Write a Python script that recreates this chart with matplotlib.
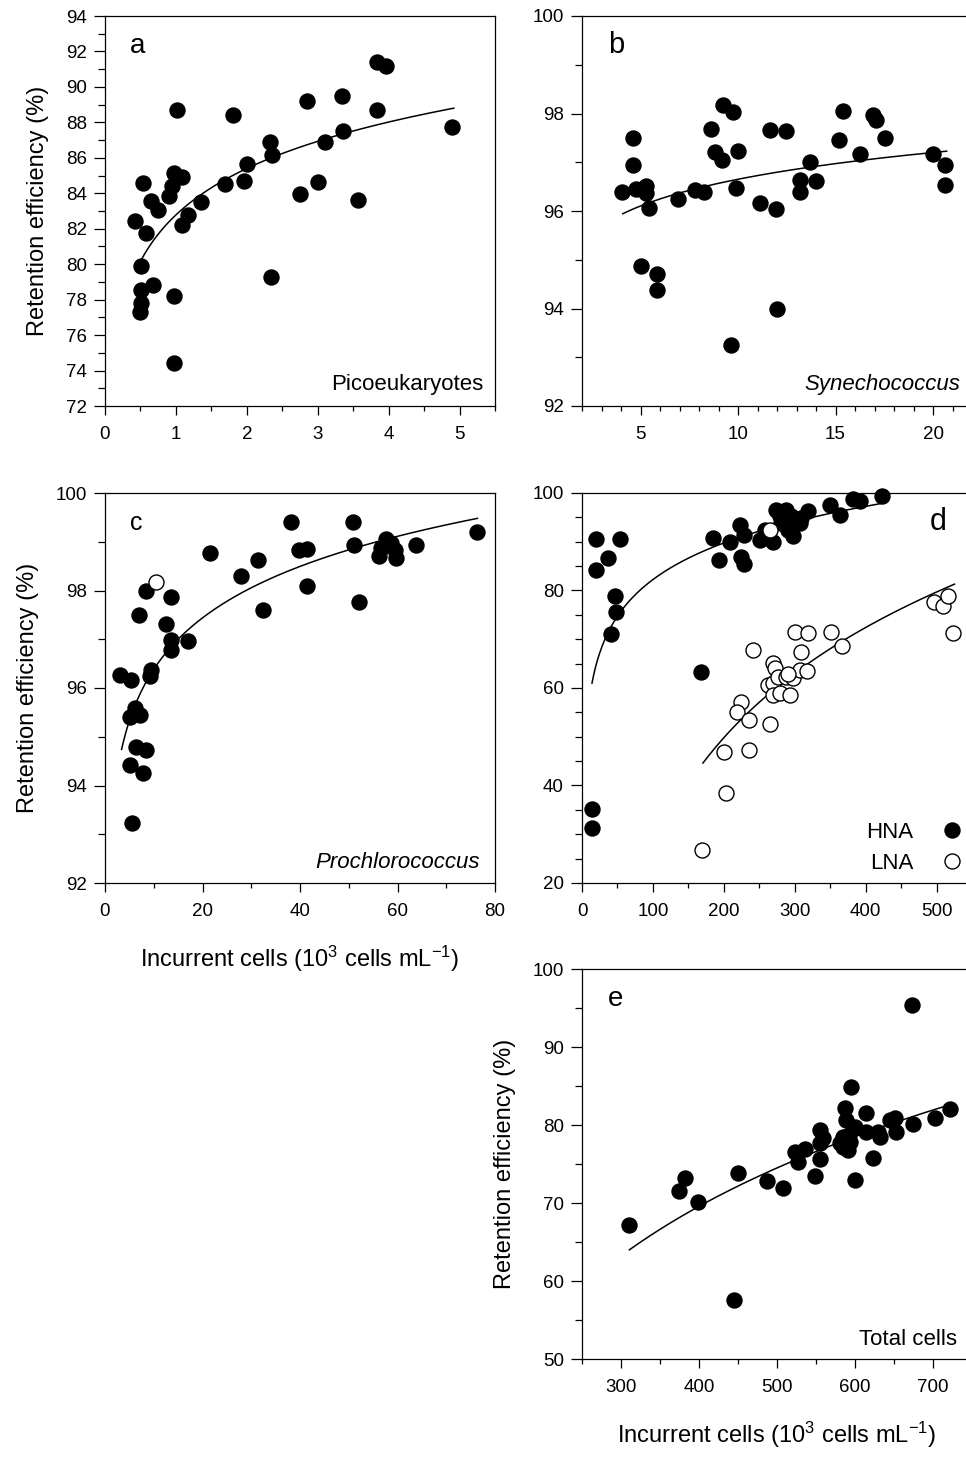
"""
Retention efficiency vs incurrent cell concentration for each picoplankton
group (a-e), with the log fits drawn over the scatter.
"""

import matplotlib
matplotlib.use("Agg")
import matplotlib.pyplot as plt
import numpy as np
from matplotlib.lines import Line2D
from matplotlib.ticker import MultipleLocator

plt.rcParams["font.family"] = ["Liberation Sans", "DejaVu Sans"]
plt.rcParams["mathtext.fontset"] = "custom"
plt.rcParams["mathtext.rm"] = "Liberation Sans"
plt.rcParams["mathtext.it"] = "Liberation Sans:italic"

# --- a: picoeukaryotes ---
PICO_X = [0.43, 0.54, 0.51, 0.51, 0.51, 0.50, 0.58, 0.67, 0.65, 0.75, 0.90, 0.95,
          0.98, 1.09, 1.01, 0.98, 0.98, 1.08, 1.17, 1.35, 1.69, 1.81, 1.96, 2.00,
          2.33, 2.35, 2.34, 2.75, 2.85, 3.00, 3.10, 3.34, 3.36, 3.57, 3.83, 3.84,
          3.96, 4.90]
PICO_Y = [82.42, 84.58, 79.88, 78.57, 77.82, 77.29, 81.76, 78.85, 83.54, 83.04, 83.83, 84.39,
          85.14, 84.91, 88.71, 78.23, 74.40, 82.23, 82.79, 83.51, 84.52, 88.39, 84.71, 85.65,
          86.92, 86.17, 79.26, 83.98, 89.21, 84.63, 86.92, 89.46, 87.54, 83.64, 88.71, 91.43,
          91.20, 87.73]

# --- b: Synechococcus ---
SYN_X = [4.06, 4.61, 4.61, 4.78, 5.29, 5.26, 5.46, 5.03, 5.86, 5.86, 6.92, 7.77, 8.28,
         8.63, 8.80, 9.17, 9.23, 9.74, 9.99, 9.88, 9.65, 11.14, 11.65, 11.96, 12.01,
         12.48, 13.16, 13.16, 13.67, 14.01, 15.18, 15.38, 16.24, 16.92, 17.09, 17.52,
         20.00, 20.63, 20.63]
SYN_Y = [96.40, 97.49, 96.95, 96.45, 96.51, 96.37, 96.06, 94.87, 94.70, 94.37, 96.25, 96.44, 96.38,
         97.68, 97.22, 97.05, 98.18, 98.04, 97.24, 96.48, 93.25, 96.16, 97.67, 96.04, 93.98,
         97.65, 96.64, 96.39, 97.00, 96.61, 97.46, 98.05, 97.17, 97.96, 97.87, 97.49,
         97.17, 96.95, 96.54]

# --- c: Prochlorococcus ---
PRO_X = [3.1, 5.4, 5.1, 6.1, 7.1, 5.1, 6.4, 8.5, 7.7, 5.6, 7.0, 8.5, 9.5, 9.3,
         12.6, 13.6, 13.5, 13.5, 17.0, 21.6, 27.9, 31.4, 32.5, 38.2, 39.8, 41.4,
         41.4, 50.8, 51.0, 52.1, 56.6, 56.3, 57.6, 58.7, 59.4, 59.6, 63.7, 76.4]
PRO_Y = [96.27, 96.16, 95.41, 95.58, 95.45, 94.42, 94.79, 94.73, 94.25, 93.23, 97.50, 98.00, 96.37, 96.25,
         97.32, 97.86, 96.99, 96.78, 96.97, 98.77, 98.30, 98.63, 97.60, 99.40, 98.84, 98.85,
         98.10, 99.40, 98.94, 97.76, 98.87, 98.70, 99.05, 98.97, 98.84, 98.66, 98.94, 99.20]
PRO_OPEN_X = [10.5]
PRO_OPEN_Y = [98.18]

# --- d: high / low nucleic acid bacteria ---
HNA_X = [19.3, 19.3, 36.7, 54.0, 46.1, 47.5, 41.4, 14.1, 14.1, 167.3, 184.7, 192.7,
         209.1, 222.3, 228.4, 224.6, 228.4, 250.5, 257.5, 269.3, 274.0, 288.1, 281.0,
         290.4, 295.1, 299.8, 297.5, 306.9, 318.6, 350.1, 364.2, 382.0, 391.4, 423.4,
         278.7, 309.2]
HNA_Y = [90.55, 84.25, 86.64, 90.55, 78.97, 75.68, 71.03, 35.14, 31.37, 63.22, 90.75, 86.16,
         89.86, 93.49, 91.44, 86.85, 85.48, 90.41, 92.47, 89.86, 96.58, 96.58, 93.84,
         92.47, 95.21, 94.18, 91.10, 93.84, 96.23, 97.60, 95.55, 98.77, 98.29, 99.45,
         95.20, 94.90]
LNA_X = [169.6, 202.5, 199.7, 235.4, 224.6, 219.0, 235.4, 241.1, 265.5, 262.2, 269.3,
         269.3, 271.6, 269.3, 278.7, 276.3, 287.1, 292.8, 297.5, 299.8, 318.6, 309.2,
         306.9, 317.2, 351.5, 367.0, 495.8, 508.9, 516.0, 523.0, 264.6, 290.4]
LNA_Y = [26.85, 38.56, 46.92, 47.26, 57.05, 55.14, 53.42, 67.81, 52.53, 60.62, 60.96,
         65.21, 64.04, 58.56, 59.04, 62.33, 62.33, 58.56, 61.99, 71.58, 71.23, 67.47,
         63.70, 63.56, 71.58, 68.63, 77.74, 76.85, 78.77, 71.37, 92.47, 62.88]

# --- e: total cells ---
TOT_X = [310.7, 374.9, 382.6, 398.4, 445.5, 449.7, 487.0, 507.5, 522.5, 526.8, 535.3,
         548.1, 554.5, 554.5, 555.4, 558.8, 580.2, 584.5, 586.6, 588.8, 590.9, 593.9,
         595.2, 599.5, 599.5, 614.4, 614.4, 623.0, 629.4, 631.6, 644.4, 650.8, 653.0,
         673.5, 674.3, 702.1, 721.4, 584.5, 592.0]
TOT_Y = [67.21, 71.56, 73.19, 70.07, 57.60, 73.83, 72.84, 71.90, 76.60, 75.32, 76.94,
         73.40, 79.38, 77.67, 75.62, 78.31, 77.67, 78.52, 82.15, 80.66, 76.81, 77.88,
         84.93, 72.97, 79.80, 81.51, 79.16, 75.75, 79.16, 78.52, 80.66, 80.87, 79.16,
         95.39, 80.15, 80.87, 82.02, 77.20, 78.70]

# log fits, y = a + b*ln(x), drawn over [x_start, x_end]
FIT_PICO = (82.78, 3.779, 0.513, 4.92)
FIT_SYN = (94.83, 0.791, 4.09, 20.7)
FIT_PRO = (92.876, 1.523, 3.4, 76.4)
FIT_HNA = (32.32, 10.84, 14.1, 426.7)
FIT_LNA = (-123.03, 32.62, 170.6, 525.4)
FIT_TOT = (-62.66, 22.07, 310.7, 721.4)

FIG_W, FIG_H = 966, 1457
AX_SIZE = 390
MS = 10.8
YLABEL = "Retention efficiency (%)"
XLABEL = r"Incurrent cells (10$^{3}$ cells mL$^{\mathrm{-1}}$)"


def add_panel(fig, left_px, top_px):
    rect = [left_px / FIG_W, 1 - (top_px + AX_SIZE) / FIG_H, AX_SIZE / FIG_W, AX_SIZE / FIG_H]
    ax = fig.add_axes(rect)
    for spine in ax.spines.values():
        spine.set_linewidth(0.9)
    ax.tick_params(which="both", direction="out", top=False, right=False, width=0.9,
                   labelsize=13.5)
    ax.tick_params(axis="y", which="major", length=8, pad=5)
    ax.tick_params(axis="y", which="minor", length=5)
    ax.tick_params(axis="x", which="major", length=6.5, pad=8)
    ax.tick_params(axis="x", which="minor", length=3.6)
    return ax


def set_axes(ax, xlim, ylim, xmaj, xmin, ymaj, ymin):
    ax.set_xlim(*xlim)
    ax.set_ylim(*ylim)
    ax.xaxis.set_major_locator(MultipleLocator(xmaj))
    ax.xaxis.set_minor_locator(MultipleLocator(xmin))
    ax.yaxis.set_major_locator(MultipleLocator(ymaj))
    ax.yaxis.set_minor_locator(MultipleLocator(ymin))


def draw_fit(ax, fit):
    a, b, x0, x1 = fit
    xs = np.linspace(x0, x1, 200)
    ax.plot(xs, a + b * np.log(xs), color="black", lw=1.1, zorder=2)


def filled(ax, x, y):
    ax.plot(x, y, "o", ms=MS, mfc="black", mec="black", mew=1.0, ls="none",
            clip_on=False, zorder=3)


def hollow(ax, x, y):
    ax.plot(x, y, "o", ms=MS, mfc="white", mec="black", mew=1.0, ls="none",
            clip_on=False, zorder=4)


def letter(ax, text, x, size):
    ax.text(x, 0.904, text, transform=ax.transAxes, fontsize=size, ha="left", va="baseline")


def name(ax, text, x, y, italic=False):
    ax.text(x, y, text, transform=ax.transAxes, fontsize=16, ha="right", va="baseline",
            style="italic" if italic else "normal")


def main():
    fig = plt.figure(figsize=(FIG_W / 100, FIG_H / 100), dpi=100)
    fig.patch.set_facecolor("white")

    # a
    ax = add_panel(fig, 105, 16)
    set_axes(ax, (0, 5.5), (72, 94), 1, 0.5, 2, 1)
    draw_fit(ax, FIT_PICO)
    filled(ax, PICO_X, PICO_Y)
    letter(ax, "a", 0.064, 20)
    name(ax, "Picoeukaryotes", 0.969, 0.042)
    ax.set_ylabel(YLABEL, fontsize=17, labelpad=12)

    # b
    ax = add_panel(fig, 582, 16)
    set_axes(ax, (2, 22), (92, 100), 5, 1, 2, 1)
    draw_fit(ax, FIT_SYN)
    filled(ax, SYN_X, SYN_Y)
    letter(ax, "b", 0.066, 21)
    name(ax, "Synechococcus", 0.969, 0.042, italic=True)

    # c
    ax = add_panel(fig, 105, 493)
    set_axes(ax, (0, 80), (92, 100), 20, 10, 2, 1)
    draw_fit(ax, FIT_PRO)
    filled(ax, PRO_X, PRO_Y)
    hollow(ax, PRO_OPEN_X, PRO_OPEN_Y)
    letter(ax, "c", 0.064, 18)
    name(ax, "Prochlorococcus", 0.961, 0.038, italic=True)
    ax.set_ylabel(YLABEL, fontsize=17, labelpad=12)
    ax.set_xlabel(XLABEL, fontsize=17, labelpad=17)

    # d
    ax = add_panel(fig, 582, 493)
    set_axes(ax, (0, 550), (20, 100), 100, 50, 20, 5)
    draw_fit(ax, FIT_HNA)
    draw_fit(ax, FIT_LNA)
    filled(ax, HNA_X, HNA_Y)
    hollow(ax, LNA_X, LNA_Y)
    letter(ax, "d", 0.892, 22)
    handles = [
        Line2D([], [], marker="o", ms=MS, mfc="black", mec="black", ls="none"),
        Line2D([], [], marker="o", ms=MS, mfc="white", mec="black", ls="none"),
    ]
    ax.legend(handles, ["HNA", "LNA"], loc="lower right", markerfirst=False, frameon=False,
              fontsize=16, handlelength=1.0, handletextpad=1.25, labelspacing=0.45,
              borderpad=0.4, borderaxespad=0.0)

    # e
    ax = add_panel(fig, 582, 969)
    set_axes(ax, (250, 750), (50, 100), 100, 50, 10, 5)
    draw_fit(ax, FIT_TOT)
    filled(ax, TOT_X, TOT_Y)
    letter(ax, "e", 0.067, 20)
    name(ax, "Total cells", 0.961, 0.036)
    ax.set_ylabel(YLABEL, fontsize=17, labelpad=12)
    ax.set_xlabel(XLABEL, fontsize=17, labelpad=17)

    fig.savefig("out.png", dpi=100, facecolor="white")
    plt.close(fig)


if __name__ == "__main__":
    main()
